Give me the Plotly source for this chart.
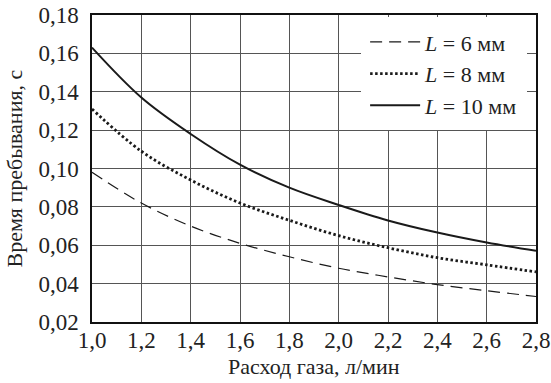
import plotly.graph_objects as go

flow = [1.0, 1.2, 1.4, 1.6, 1.8, 2.0, 2.2, 2.4, 2.6, 2.8]
t_L6 = [0.098, 0.082, 0.070, 0.061, 0.054, 0.048, 0.0435, 0.0395, 0.0363, 0.0333]
t_L8 = [0.131, 0.109, 0.094, 0.082, 0.073, 0.065, 0.0587, 0.0535, 0.0498, 0.0461]
t_L10 = [0.163, 0.137, 0.118, 0.102, 0.090, 0.081, 0.0729, 0.0666, 0.0614, 0.0571]

names = ["<i>L</i> = 6 мм", "<i>L</i> = 8 мм", "<i>L</i> = 10 мм"]
series = [t_L6, t_L8, t_L10]
styles = [dict(dash="12px,7px", width=1.2), dict(dash="2.5px,2.5px", width=2.8), dict(dash="solid", width=2)]

x_title = "Расход газа, л/мин"
y_title = "Время пребывания, с"

fig = go.Figure()
for n, s, st in zip(names, series, styles):
    fig.add_trace(go.Scatter(x=flow, y=s, mode="lines", name=n, line_shape="spline",
                             line=dict(color="#1a1a1a", **st)))

font = "Liberation Serif"
tickfont = dict(family=font, size=23, color="#222")
titlefont = dict(family=font, size=22, color="#222")
fig.update_layout(
    width=551, height=383,
    margin=dict(l=92, r=15, t=15, b=61, autoexpand=False),
    plot_bgcolor="white", paper_bgcolor="white",
    separators=", ",
    font=dict(family=font, size=22, color="#222"),
    showlegend=True,
    legend=dict(x=0.98, y=0.993, xanchor="right", yanchor="top",
                bgcolor="white", bordercolor="white", borderwidth=4,
                font=dict(family=font, size=22, color="#222"),
                tracegroupgap=0, itemwidth=50),
    xaxis=dict(range=[1.0, 2.8], dtick=0.2, tick0=1.0, tickformat=".1f",
               tickfont=tickfont, automargin=False, ticklabelstandoff=-3,
               ticklabeloverflow="allow",
               showgrid=True, gridcolor="#555", gridwidth=1,
               showline=True, linecolor="#111", linewidth=1.5, mirror=True,
               ticks="", zeroline=False),
    yaxis=dict(range=[0.02, 0.18], dtick=0.02, tick0=0.02, tickformat=".2f",
               tickfont=tickfont, automargin=False, ticklabelstandoff=7,
               ticklabeloverflow="allow",
               showgrid=True, gridcolor="#555", gridwidth=1,
               showline=True, linecolor="#111", linewidth=1.5, mirror=True,
               ticks="", zeroline=False),
    annotations=[
        dict(text=x_title, xref="paper", yref="paper", x=0.5, y=0, xanchor="center",
             yanchor="middle", yshift=-44, showarrow=False, font=titlefont),
        dict(text=y_title, xref="paper", yref="paper", x=0, y=0.5, xanchor="center",
             yanchor="middle", xshift=-78, textangle=-90, showarrow=False, font=titlefont),
    ],
)

# remove the default 8px page margin so the figure fills the window exactly
fig.write_html("out.html", config={"displayModeBar": False},
               post_script="document.body.style.margin='0';")
